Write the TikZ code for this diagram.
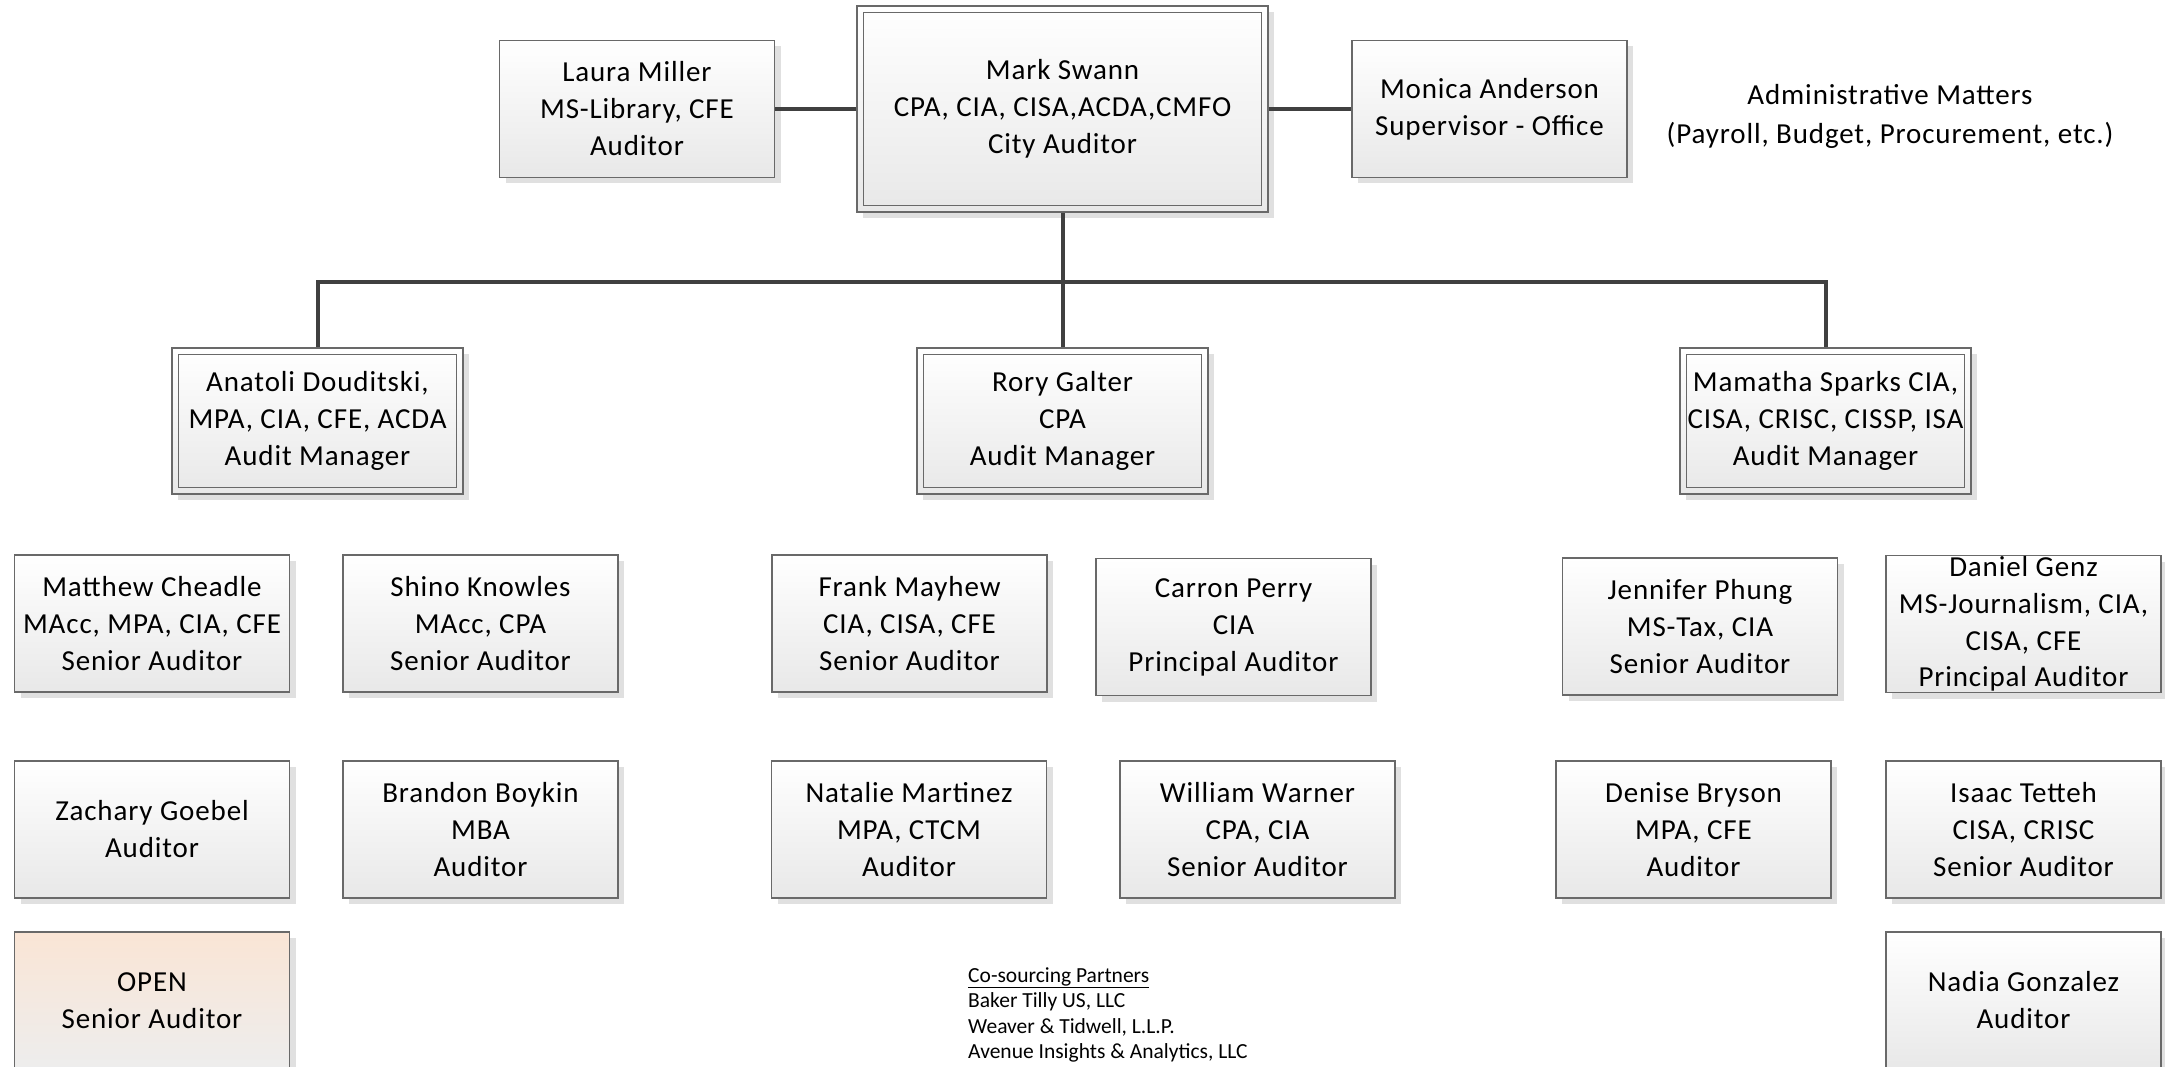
\documentclass[tikz,border=0pt]{standalone}
\usepackage{fontspec}
\setmainfont{Carlito}
\newfontfamily\visio[LetterSpace=3]{Carlito}
\usetikzlibrary{shadows}
\definecolor{bordgris}{RGB}{105,105,105}
\definecolor{liengris}{RGB}{64,64,64}
\definecolor{peche}{RGB}{250,229,213}

\begin{document}
\begin{tikzpicture}[x=1pt,y=-1pt,
    poste/.style={draw=bordgris, line width=1.2pt, top color=white, bottom color=black!9,
      drop shadow={shadow xshift=6pt, shadow yshift=-6pt, fill=black!12, opacity=1},
      minimum width=275pt, minimum height=137pt, align=center, inner sep=0pt,
      font=\visio\fontsize{29}{37}\selectfont},
    chef/.style={poste, minimum width=291pt, minimum height=146pt},
    lien/.style={draw=liengris, line width=4pt}]
  \path[use as bounding box, clip] (0,0) rectangle (2165,1067);

  % Direction
  \node[poste] (laura) at (637,109) {Laura Miller\\MS-Library, CFE\\Auditor};
  \node[chef, minimum width=411pt, minimum height=206pt] (mark) at (1062.5,109)
      {Mark Swann\\CPA, CIA, CISA,ACDA,CMFO\\City Auditor};
  \node[poste] (monica) at (1489.5,109) {Monica Anderson\\Supervisor - Office};
  \node[align=center, font=\visio\fontsize{29}{39}\selectfont] (admin) at (1890,116)
      {Administrative Matters\\(Payroll, Budget, Procurement, etc.)};

  % Audit managers
  \node[chef] (anatoli) at (317.5,421) {Anatoli Douditski,\\MPA, CIA, CFE, ACDA\\Audit Manager};
  \node[chef] (rory) at (1062.5,421) {Rory Galter\\CPA\\Audit Manager};
  \node[chef] (mamatha) at (1825.5,421) {Mamatha Sparks CIA,\\CISA, CRISC, CISSP, ISA\\Audit Manager};
  \foreach \n in {mark,anatoli,rory,mamatha} \draw[draw=bordgris, line width=1pt]
      ([shift={(7pt,-7pt)}]\n.north west) rectangle ([shift={(-7pt,7pt)}]\n.south east);

  % Equipe 1
  \node[poste] (matthew) at (152,623.5) {Matthew Cheadle\\MAcc, MPA, CIA, CFE\\Senior Auditor};
  \node[poste] (shino) at (480.5,623.5) {Shino Knowles\\MAcc, CPA\\Senior Auditor};
  \node[poste] (zachary) at (152,829.5) {Zachary Goebel\\Auditor};
  \node[poste] (brandon) at (480.5,829.5) {Brandon Boykin\\MBA\\Auditor};
  \node[poste, top color=peche, bottom color=black!7] (open) at (152,1000.5) {OPEN\\Senior Auditor};

  % Equipe 2
  \node[poste] (frank) at (909.5,623.5) {Frank Mayhew\\CIA, CISA, CFE\\Senior Auditor};
  \node[poste] (carron) at (1233.5,627) {Carron Perry\\CIA\\Principal Auditor};
  \node[poste] (natalie) at (909,829.5) {Natalie Martinez\\MPA, CTCM\\Auditor};
  \node[poste] (william) at (1257.5,829.5) {William Warner\\CPA, CIA\\Senior Auditor};

  % Equipe 3
  \node[poste] (jennifer) at (1700,626.5) {Jennifer Phung\\MS-Tax, CIA\\Senior Auditor};
  \node[poste, font=\visio\fontsize{29}{36.8}\selectfont] (daniel) at (2023.5,624)
      {Daniel Genz\\MS-Journalism, CIA,\\CISA, CFE\\Principal Auditor};
  \node[poste] (denise) at (1693.5,829.5) {Denise Bryson\\MPA, CFE\\Auditor};
  \node[poste] (isaac) at (2023.5,829.5) {Isaac Tetteh\\CISA, CRISC\\Senior Auditor};
  \node[poste] (nadia) at (2023.5,1000.5) {Nadia Gonzalez\\Auditor};

  \node[anchor=north west, align=left, inner sep=0pt, font=\fontsize{21.5}{25.5}\selectfont]
      (partners) at (968,967) {\underline{Co-sourcing Partners}\\Baker Tilly US, LLC\\
      Weaver \& Tidwell, L.L.P.\\Avenue Insights \& Analytics, LLC};

  % Liens
  \draw[lien] (laura) -- (mark);
  \draw[lien] (mark) -- (monica);
  \coordinate (bus) at (1062.5,282);
  \draw[lien] (mark) -- (rory);
  \draw[lien] (bus) -| (anatoli.north);
  \draw[lien] (bus) -| (mamatha.north);
\end{tikzpicture}
\end{document}
